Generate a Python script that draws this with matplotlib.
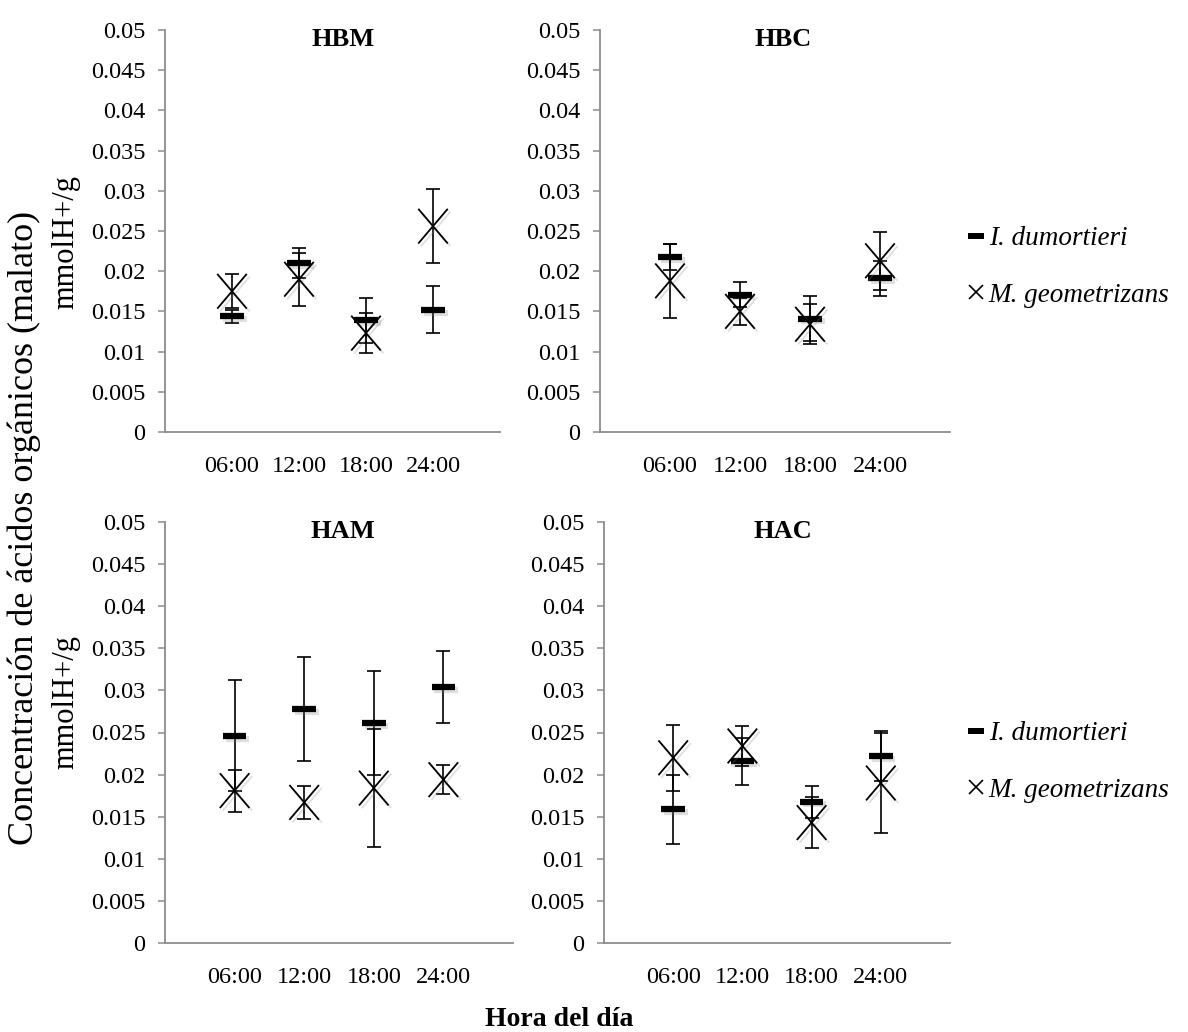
import numpy as np
import matplotlib.pyplot as plt
import matplotlib.patheffects as pe
from matplotlib.lines import Line2D
from matplotlib.path import Path

# hours of the day (categories)
horas = ['06:00', '12:00', '18:00', '24:00']
paneles = ['HBM', 'HBC', 'HAM', 'HAC']

# I. dumortieri means and errors per panel
idum_hbm = [0.0144, 0.0210, 0.0139, 0.0152]
idum_hbm_err = [0.0008, 0.0019, 0.0028, 0.0029]
idum_hbc = [0.0218, 0.0171, 0.0141, 0.0191]
idum_hbc_err = [0.0016, 0.0015, 0.0028, 0.0022]
idum_ham = [0.0246, 0.0278, 0.0261, 0.0304]
idum_ham_err = [0.0066, 0.0062, 0.0062, 0.0043]
idum_hac = [0.0159, 0.0216, 0.0168, 0.0222]
idum_hac_err = [0.0041, 0.0028, 0.0019, 0.0030]

# M. geometrizans means and errors per panel
mgeo_hbm = [0.0175, 0.0190, 0.0123, 0.0256]
mgeo_hbm_err = [0.0021, 0.0033, 0.0025, 0.0046]
mgeo_hbc = [0.0188, 0.0150, 0.0134, 0.0213]
mgeo_hbc_err = [0.0046, 0.0017, 0.0025, 0.0036]
mgeo_ham = [0.0181, 0.0167, 0.0184, 0.0194]
mgeo_ham_err = [0.0025, 0.0020, 0.0070, 0.0017]
mgeo_hac = [0.0220, 0.0234, 0.0143, 0.0190]
mgeo_hac_err = [0.0039, 0.0024, 0.0030, 0.0059]

yticks = [0, 0.005, 0.01, 0.015, 0.02, 0.025, 0.03, 0.035, 0.04, 0.045, 0.05]
ytick_labels = ['0', '0.005', '0.01', '0.015', '0.02', '0.025', '0.03',
                '0.035', '0.04', '0.045', '0.05']


def main():
    plt.rcParams['font.family'] = ['Liberation Serif', 'DejaVu Serif']

    W, H = 1188, 1032
    fig = plt.figure(figsize=(W / 100, H / 100), dpi=100)

    # axes boxes in pixels: left, right, top, bottom
    boxes = [(165, 500, 30, 432), (600, 950, 30, 432),
             (165, 513, 522, 943), (604, 950, 522, 943)]
    title_x = [343, 783, 343, 783]

    idum = [(idum_hbm, idum_hbm_err), (idum_hbc, idum_hbc_err),
            (idum_ham, idum_ham_err), (idum_hac, idum_hac_err)]
    mgeo = [(mgeo_hbm, mgeo_hbm_err), (mgeo_hbc, mgeo_hbc_err),
            (mgeo_ham, mgeo_ham_err), (mgeo_hac, mgeo_hac_err)]

    # slightly taller-than-wide cross, like the Excel marker
    xmark = Path([(-0.85, -1), (0.85, 1), (-0.85, 1), (0.85, -1)],
                 [Path.MOVETO, Path.LINETO, Path.MOVETO, Path.LINETO])
    shadow = [pe.SimpleLineShadow(offset=(2, -2), shadow_color='gray', alpha=0.25),
              pe.Normal()]
    grey = '#8c8c8c'
    x = np.arange(1, len(horas) + 1)
    eb = dict(fmt='none', ecolor='black', elinewidth=1.2, capsize=4.7,
              capthick=1.2)

    for i, (l, r, t, b) in enumerate(boxes):
        ax = fig.add_axes([l / W, 1 - b / H, (r - l) / W, (b - t) / H])

        y, e = idum[i]
        ax.errorbar(x, y, yerr=e, zorder=3, **eb)
        m, = ax.plot(x, y, linestyle='none', marker='_', color='black',
                     markersize=17, markeredgewidth=4.5, zorder=3)
        m.set_path_effects(shadow)

        y, e = mgeo[i]
        ax.errorbar(x, y, yerr=e, zorder=4, **eb)
        m, = ax.plot(x, y, linestyle='none', marker=xmark, markersize=25,
                     markerfacecolor='none', markeredgecolor='black',
                     markeredgewidth=1.3, zorder=5)
        m.set_path_effects(shadow)

        ax.set_xlim(0, 5)
        ax.set_ylim(0, 0.05)
        ax.set_xticks(x)
        ax.set_xticklabels(horas, fontsize=17.5)
        ax.set_yticks(yticks)
        ax.set_yticklabels(ytick_labels, fontsize=17.5)
        ax.tick_params(axis='x', length=0, pad=17)
        ax.tick_params(axis='y', length=5, width=1.1, color=grey, pad=9)
        for s in ['top', 'right']:
            ax.spines[s].set_visible(False)
        for s in ['left', 'bottom']:
            ax.spines[s].set_color(grey)
            ax.spines[s].set_linewidth(1.3)
        ax.patch.set_alpha(0)

        fig.text(title_x[i] / W, 1 - (t + 10) / H, paneles[i], ha='center',
                 va='center', fontsize=19, fontweight='bold')

    # legends on the right
    handles = [Line2D([], [], linestyle='none', marker='_', color='black',
                      markersize=12, markeredgewidth=4.3),
               Line2D([], [], linestyle='none', marker='x', color='black',
                      markersize=10.5, markeredgewidth=1.2)]
    labels = ['I. dumortieri', 'M. geometrizans']
    for yc in [267, 762]:
        fig.legend(handles, labels, loc='center left',
                   bbox_to_anchor=(967 / W, 1 - yc / H), frameon=False,
                   prop={'style': 'italic', 'size': 19.5}, handlelength=0.65,
                   handletextpad=0.15, labelspacing=1.15, borderpad=0,
                   borderaxespad=0)

    # axis titles
    fig.text(24 / W, 1 - 528 / H, 'Concentración de ácidos orgánicos (malato)',
             rotation=90, ha='center', va='center', fontsize=26)
    fig.text(66 / W, 1 - 242 / H, 'mmolH+/g', rotation=90, ha='center',
             va='center', fontsize=22)
    fig.text(66 / W, 1 - 702 / H, 'mmolH+/g', rotation=90, ha='center',
             va='center', fontsize=22)
    fig.text(559 / W, 1 - 1026 / H, 'Hora del día', ha='center',
             va='baseline', fontsize=20, fontweight='bold')

    plt.savefig('out.png', dpi=100)


if __name__ == "__main__":
    main()
